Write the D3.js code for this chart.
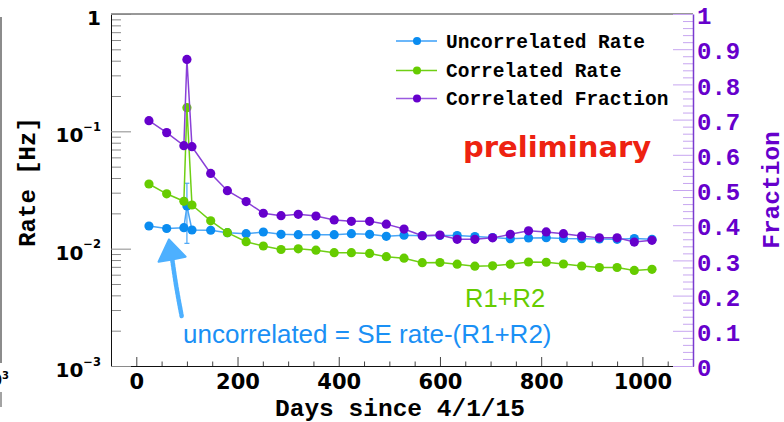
<!DOCTYPE html>
<html>
<head>
<meta charset="utf-8">
<script src="https://cdn.jsdelivr.net/npm/d3@7"></script>
<style>
  html, body { margin: 0; padding: 0; background: #fff; }
  svg { display: block; }
</style>
</head>
<body>
<svg id="chart" width="784" height="422"></svg>
<script>
// Measurement days (days since 4/1/15)
const days = [25, 60, 94, 100, 110, 147, 180, 217, 251, 286, 320, 355, 391, 425, 461,
  494, 529, 565, 600, 634, 669, 704, 739, 775, 810, 844, 880, 915, 950, 984, 1019];

// Uncorrelated rate [Hz]
const uncorrRate = [0.01560, 0.01485, 0.01509, 0.02310, 0.01442, 0.01436, 0.01368, 0.01341,
  0.01387, 0.01326, 0.01315, 0.01315, 0.01315, 0.01341, 0.01326, 0.01274, 0.01302, 0.01290,
  0.01295, 0.01295, 0.01269, 0.01245, 0.01216, 0.01233, 0.01240, 0.01221, 0.01216, 0.01209,
  0.01202, 0.01221, 0.01202];

// Correlated rate (R1+R2) [Hz]
const corrRate = [0.03556, 0.02935, 0.02533, 0.1590, 0.02356, 0.01728, 0.01368, 0.01147,
  0.01054, 0.00984, 0.00997, 0.00970, 0.00924, 0.00924, 0.00910, 0.00854, 0.00829, 0.00759,
  0.00762, 0.00737, 0.00709, 0.00714, 0.00737, 0.00770, 0.00766, 0.00740, 0.00712, 0.00691,
  0.00691, 0.00652, 0.00667];

// Correlated fraction (right axis)
const corrFraction = [0.697, 0.663, 0.626, 0.871, 0.623, 0.547, 0.498, 0.467, 0.434, 0.427,
  0.431, 0.426, 0.415, 0.411, 0.411, 0.403, 0.389, 0.370, 0.372, 0.360, 0.360, 0.364, 0.374,
  0.384, 0.381, 0.376, 0.369, 0.364, 0.364, 0.352, 0.357];

// Error bar on the day-100 uncorrelated point [Hz]
const uncorrErrDay = 100;
const uncorrErrRange = [0.0111, 0.0361];

// Tick values
const xMajorTicks = [0, 200, 400, 600, 800, 1000];
const rateMajorTicks = [1e-3, 1e-2, 1e-1, 1];
const rateExponents = ["\u22123", "\u22122", "\u22121", ""];
const fractionTicks = [0, 0.1, 0.2, 0.3, 0.4, 0.5, 0.6, 0.7, 0.8, 0.9, 1];

const seriesNames = ["Uncorrelated Rate", "Correlated Rate", "Correlated Fraction"];

// Annotation arrow (in days / Hz)
const arrowTip = [64.5, 0.0120];
const arrowLeft = [44, 0.00774];
const arrowRight = [97.5, 0.00854];
const arrowNeck = [71, 0.0081];
const arrowTail = [89.6, 0.00267];

const svg = d3.select("#chart");
const L = 111, R = 693, T = 14, B = 366;

const x = d3.scaleLinear().domain([-50, 1100]).range([L, R]);
const yRate = d3.scaleLog().domain([1e-3, 1]).range([B, T]);
const yFrac = d3.scaleLinear().domain([0, 1]).range([B, T]);

const mono = "'Liberation Mono', 'Courier New', monospace";
const sansBold = "'DejaVu Sans', Verdana, sans-serif";
const sans = "'Liberation Sans', Arial, Helvetica, sans-serif";

const colors = {
  blue: "#0a8cf0", blueLine: "#4aa6f6",
  green: "#66cc00", greenLine: "#6fcf14",
  purple: "#6600cc", purpleLine: "#8a40d8"
};

// Fragment of neighbouring panel at the far left edge
svg.append("line").attr("x1", 1).attr("x2", 1).attr("y1", 17).attr("y2", 363)
  .attr("stroke", "#666").attr("stroke-width", 1.5);
svg.append("line").attr("x1", 1).attr("x2", 1).attr("y1", 392).attr("y2", 407)
  .attr("stroke", "#666").attr("stroke-width", 1.2);
const frag = svg.append("text").attr("x", 9).attr("y", 386).attr("text-anchor", "end")
  .attr("font-family", sansBold).attr("font-weight", "bold").attr("font-size", 17);
frag.append("tspan").text("10");
frag.append("tspan").attr("font-size", 10).attr("dy", -7).text("3");

// Bottom axis: major and minor ticks pointing inward
const xMinor = d3.range(-50, 1101, 50).filter(v => v % 200 !== 0);
svg.append("g").attr("transform", `translate(0,${B})`)
  .call(d3.axisBottom(x).tickValues(xMinor).tickSizeInner(-4.5).tickSizeOuter(0).tickFormat(""))
  .call(g => g.select(".domain").remove())
  .call(g => g.selectAll("line").attr("stroke", "#444"));
const xAxisG = svg.append("g").attr("transform", `translate(0,${B})`)
  .call(d3.axisBottom(x).tickValues(xMajorTicks).tickSizeInner(-9).tickSizeOuter(0)
    .tickPadding(8).tickFormat(d3.format("d")));
xAxisG.select(".domain").attr("stroke", "#111");
xAxisG.selectAll("line").attr("stroke", "#444");
xAxisG.selectAll("text").attr("font-family", sansBold).attr("font-weight", "bold")
  .attr("font-size", 21).attr("fill", "#000");

// Top frame line
svg.append("line").attr("x1", L).attr("x2", R).attr("y1", T).attr("y2", T)
  .attr("stroke", "#333").attr("stroke-width", 1);

// Left (log) axis
const rateMinor = [];
[1e-3, 1e-2, 1e-1].forEach(d => { for (let k = 2; k <= 9; k++) rateMinor.push(d * k); });
svg.append("g").attr("transform", `translate(${L},0)`)
  .call(d3.axisLeft(yRate).tickValues(rateMinor).tickSizeInner(-10).tickSizeOuter(0).tickFormat(""))
  .call(g => g.select(".domain").remove())
  .call(g => g.selectAll("line").attr("stroke", "#8a8a8a"));
const yAxisG = svg.append("g").attr("transform", `translate(${L},0)`)
  .call(d3.axisLeft(yRate).tickValues(rateMajorTicks).tickSizeInner(-20).tickSizeOuter(0).tickFormat(""));
yAxisG.select(".domain").attr("stroke", "#111");
yAxisG.selectAll("line").attr("stroke", "#8a8a8a");

// Left tick labels with superscript exponents
rateMajorTicks.forEach((v, i) => {
  const t = svg.append("text").attr("x", 101).attr("y", yRate(v) + 11)
    .attr("text-anchor", "end").attr("font-family", sansBold).attr("font-weight", "bold")
    .attr("font-size", 20).attr("fill", "#000");
  if (rateExponents[i] === "") {
    t.text("1");
  } else {
    t.append("tspan").text("10");
    t.append("tspan").attr("font-size", 11.5).attr("dy", -11.5).text(rateExponents[i]);
  }
});

// Right (fraction) axis
const fracMinor = d3.range(0, 51).map(k => k / 50).filter((v, k) => k % 5 !== 0);
svg.append("g").attr("transform", `translate(${R},0)`)
  .call(d3.axisRight(yFrac).tickValues(fracMinor).tickSizeInner(-10).tickSizeOuter(0).tickFormat(""))
  .call(g => g.select(".domain").remove())
  .call(g => g.selectAll("line").attr("stroke", "#c7a6f0"));
const yRightG = svg.append("g").attr("transform", `translate(${R},0)`)
  .call(d3.axisRight(yFrac).tickValues(fractionTicks).tickSizeInner(-20).tickSizeOuter(0)
    .tickPadding(4).tickFormat(d => (d === 0 || d === 1) ? String(d) : d3.format(".1f")(d)));
yRightG.select(".domain").attr("stroke", "#7a3ad0").attr("stroke-width", 1.5);
yRightG.selectAll("line").attr("stroke", "#c7a6f0");
yRightG.selectAll("text").attr("font-family", mono).attr("font-weight", "bold")
  .attr("font-size", 24).attr("fill", colors.purple).attr("dy", "0.4em");

// Axis titles
svg.append("text").attr("x", 400).attr("y", 416).attr("text-anchor", "middle")
  .attr("font-family", mono).attr("font-weight", "bold").attr("font-size", 24.5)
  .attr("fill", "#000").text("Days since 4/1/15");
svg.append("text").attr("transform", "translate(35,182) rotate(-90)").attr("text-anchor", "middle")
  .attr("font-family", mono).attr("font-weight", "bold").attr("font-size", 24)
  .attr("fill", "#000").text("Rate [Hz]");
svg.append("text").attr("transform", "translate(779,190) rotate(-90)").attr("text-anchor", "middle")
  .attr("font-family", mono).attr("font-weight", "bold").attr("font-size", 24.5)
  .attr("fill", colors.purple).text("Fraction");

// Data series
const uncorr = days.map((d, i) => ({ day: d, v: uncorrRate[i] }));
const corr = days.map((d, i) => ({ day: d, v: corrRate[i] }));
const frac = days.map((d, i) => ({ day: d, v: corrFraction[i] }));

const plot = svg.append("g");

function drawSeries(data, yScale, lineColor, markerColor) {
  plot.append("path").datum(data)
    .attr("fill", "none").attr("stroke", lineColor).attr("stroke-width", 1.5)
    .attr("d", d3.line().x(d => x(d.day)).y(d => yScale(d.v)));
  plot.append("g").selectAll("circle").data(data).join("circle")
    .attr("cx", d => x(d.day)).attr("cy", d => yScale(d.v)).attr("r", 4.6)
    .attr("fill", markerColor);
}

// Uncorrelated error bar
const ex = x(uncorrErrDay);
plot.append("line").attr("x1", ex).attr("x2", ex)
  .attr("y1", yRate(uncorrErrRange[0])).attr("y2", yRate(uncorrErrRange[1]))
  .attr("stroke", colors.blueLine).attr("stroke-width", 1.2);
uncorrErrRange.forEach(v => {
  plot.append("line").attr("x1", ex - 2.5).attr("x2", ex + 2.5)
    .attr("y1", yRate(v)).attr("y2", yRate(v))
    .attr("stroke", colors.blueLine).attr("stroke-width", 1.2);
});

drawSeries(uncorr, yRate, colors.blueLine, colors.blue);
drawSeries(corr, yRate, colors.greenLine, colors.green);
drawSeries(frac, yFrac, colors.purpleLine, colors.purple);

// Legend
const legendRows = [
  { name: seriesNames[0], line: "#3a9ff8", marker: colors.blue, y: 41 },
  { name: seriesNames[1], line: colors.greenLine, marker: colors.green, y: 70.5 },
  { name: seriesNames[2], line: "#9a5ae0", marker: colors.purple, y: 98.5 }
];
const leg = svg.append("g");
legendRows.forEach(r => {
  leg.append("line").attr("x1", 396).attr("x2", 437).attr("y1", r.y).attr("y2", r.y)
    .attr("stroke", r.line).attr("stroke-width", 1.5);
  leg.append("circle").attr("cx", 417).attr("cy", r.y).attr("r", 4).attr("fill", r.marker);
  leg.append("text").attr("x", 446).attr("y", r.y + 6.5)
    .attr("font-family", mono).attr("font-weight", "bold").attr("font-size", 19.5)
    .attr("fill", "#000").text(r.name);
});

// Annotations
svg.append("text").attr("x", 463).attr("y", 156.7)
  .attr("font-family", sansBold).attr("font-weight", "bold").attr("font-size", 29)
  .attr("fill", "#ee2211").text("preliminary");
svg.append("text").attr("x", 465).attr("y", 306.7)
  .attr("font-family", sans).attr("font-size", 25.5)
  .attr("fill", "#66cc00").text("R1+R2");
svg.append("text").attr("x", 183).attr("y", 343.3)
  .attr("font-family", sans).attr("font-size", 26)
  .attr("fill", "#1a90f5").text("uncorrelated = SE rate-(R1+R2)");

// Hand-drawn arrow pointing at the uncorrelated series
const P = p => [x(p[0]), yRate(p[1])];
const arrow = svg.append("g").attr("opacity", 0.9);
arrow.append("path")
  .attr("d", d3.line().curve(d3.curveBasis)([P(arrowNeck), [P(arrowNeck)[0] + 4, P(arrowNeck)[1] + 28], P(arrowTail)]))
  .attr("fill", "none").attr("stroke", "#3aa8ff").attr("stroke-width", 4.5)
  .attr("stroke-dasharray", "3 1").attr("stroke-linecap", "round");
arrow.append("path")
  .attr("d", "M" + [P(arrowTip), P(arrowLeft), P(arrowNeck), P(arrowRight)].join("L") + "Z")
  .attr("fill", "#3aa8ff").attr("stroke", "#3aa8ff").attr("stroke-width", 2)
  .attr("stroke-linejoin", "round");
</script>
</body>
</html>
